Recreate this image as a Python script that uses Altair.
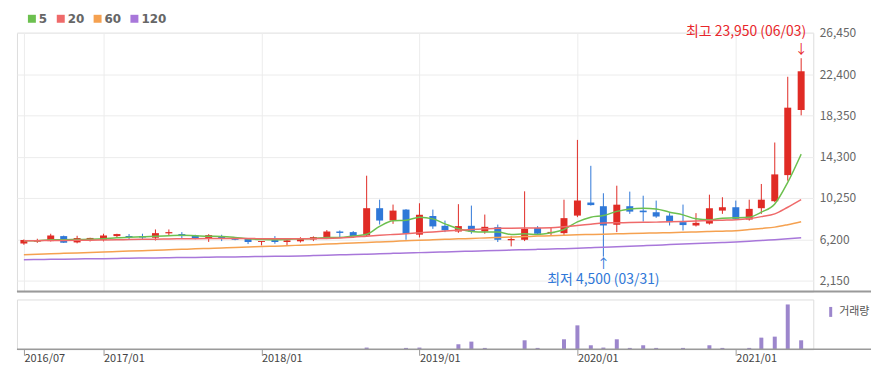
import altair as alt
import pandas as pd

# ---------------- data ----------------
months = pd.date_range("2016-07-01", periods=60, freq="MS")

open_ = [5790, 5960, 6020, 6510, 5890, 6220, 6150, 6510, 6520, 6510,
         6350, 6780, 6710, 6570, 6280, 6470, 6350, 6250, 5930, 6120,
         5930, 6000, 6180, 6320, 6960, 6900, 6570, 9245, 8035, 9110,
         6650, 8480, 7520, 6960, 7520, 6960, 7390, 6100, 6150, 7320,
         6800, 6800, 8520, 9800, 9440, 7620, 9440, 9010, 8850, 8520,
         7880, 7550, 7740, 9010, 9340, 8130, 9245, 9930, 12490, 18870]
high = [6180, 6250, 6740, 6560, 6540, 6350, 6740, 6740, 6710, 6740,
        7160, 7160, 6900, 6640, 6700, 6640, 6400, 6280, 6020, 6510,
        6320, 6400, 6480, 7100, 7060, 7000, 12430, 10080, 9600, 9150,
        9730, 9110, 8030, 9640, 9500, 8620, 7640, 6510, 10900, 7490,
        7350, 10080, 15940, 13400, 10710, 11450, 10870, 10470, 9990, 8760,
        9600, 8760, 10570, 10320, 9990, 10080, 11620, 15685, 22130, 23950]
low = [5660, 5850, 5980, 5840, 5800, 5985, 5990, 6320, 6230, 6230,
       6080, 6570, 6320, 6200, 5940, 6020, 6100, 5730, 5600, 5760,
       5630, 5880, 6020, 6220, 6380, 6480, 6470, 7645, 7710, 6150,
       6380, 7220, 6900, 6830, 6740, 6740, 5930, 5500, 6020, 6640,
       6570, 6570, 8370, 9500, 4500, 6900, 8690, 7940, 8300, 7550,
       7060, 7450, 7640, 8690, 8150, 8030, 8690, 9830, 11940, 18350]
close = [6120, 6080, 6570, 5860, 6320, 6330, 6570, 6710, 6380, 6370,
         6800, 6900, 6510, 6250, 6610, 6250, 6150, 5930, 6020, 5930,
         6090, 6280, 6410, 6960, 6820, 6510, 9245, 8035, 9010, 6740,
         8600, 7460, 7080, 7490, 6960, 7420, 6150, 6230, 7225, 6740,
         6920, 8270, 10000, 9550, 7550, 9590, 8910, 8850, 8430, 7880,
         7590, 7810, 9240, 9340, 8200, 9180, 10080, 12560, 19100, 22670]

ma5 = [6054, 6054, 6151, 6151, 6180, 6200, 6249, 6346, 6395, 6444,
       6493, 6542, 6590, 6542, 6493, 6470, 6376, 6249, 6180, 6151,
       6180, 6249, 6278, 6376, 6376, 6512, 6688, 7469, 8005, 8054,
       8366, 8200, 7713, 7225, 6961, 6903, 6903, 6668, 6737, 6668,
       6834, 7156, 7908, 8366, 8522, 8933, 9176, 9245, 9176, 8854,
       8591, 8200, 8103, 8269, 8298, 8366, 8854, 9664, 11782, 14544]
ma20 = [6050, 6060, 6080, 6090, 6100, 6110, 6130, 6150, 6170, 6190,
        6210, 6230, 6250, 6260, 6270, 6280, 6280, 6270, 6260, 6260,
        6250, 6250, 6260, 6280, 6330, 6400, 6500, 6590, 6670, 6740,
        6830, 6920, 7000, 7080, 7150, 7220, 7280, 7290, 7300, 7310,
        7330, 7420, 7540, 7680, 7800, 7820, 7840, 7860, 7880, 7910,
        7940, 7980, 8030, 8070, 8110, 8230, 8420, 8690, 9340, 10080]
ma60 = [4690, 4730, 4780, 4820, 4860, 4910, 4950, 5000, 5040, 5080,
        5130, 5170, 5210, 5260, 5300, 5340, 5390, 5430, 5480, 5520,
        5570, 5620, 5670, 5730, 5780, 5830, 5890, 5940, 5990, 6050,
        6100, 6150, 6190, 6240, 6280, 6330, 6370, 6420, 6460, 6510,
        6550, 6600, 6640, 6670, 6700, 6730, 6760, 6790, 6820, 6850,
        6880, 6920, 6960, 6990, 7030, 7150, 7260, 7390, 7630, 7920]
ma120 = [4200, 4220, 4230, 4250, 4270, 4290, 4300, 4320, 4340, 4360,
         4370, 4390, 4410, 4420, 4440, 4460, 4470, 4490, 4510, 4530,
         4540, 4560, 4600, 4640, 4670, 4710, 4740, 4780, 4820, 4850,
         4890, 4920, 4960, 5000, 5030, 5070, 5100, 5140, 5180, 5210,
         5250, 5280, 5320, 5370, 5420, 5470, 5520, 5570, 5620, 5680,
         5730, 5780, 5830, 5880, 5930, 6000, 6080, 6160, 6250, 6350]

volume = [0.4, 0.3, 0.5, 0.4, 0.3, 0.3, 0.4, 0.3, 0.3, 0.3,
          0.5, 0.4, 0.3, 0.3, 0.3, 0.3, 0.3, 0.3, 0.3, 0.3,
          0.3, 0.3, 0.3, 0.4, 0.4, 0.4, 5, 0.8, 0.8, 4,
          5, 0.8, 0.8, 15, 23, 4, 0.8, 0.8, 27, 4,
          0.8, 30, 72, 12, 5, 30, 4, 12, 4, 0.8,
          4, 0.8, 12, 4, 0.8, 4, 35, 38, 135, 27]

ma_names = ["5", "20", "60", "120"]
ma_colors = ["#6cc04f", "#ef6a6a", "#f5a150", "#a877da"]

y_ticks = [2150, 6200, 10250, 14300, 18350, 22400, 26450]
x_tick_labels = ["2016/07", "2017/01", "2018/01", "2019/01", "2020/01", "2021/01"]

ann_text = ["최고 23,950 (06/03)", "최저 4,500 (03/31)"]
ann_value = [23950, 4500]
ann_index = [59, 44]

# ---------------- tables ----------------
price = pd.DataFrame({"date": months, "open": open_, "high": high,
                      "low": low, "close": close})

ma_df = pd.concat([
    pd.DataFrame({"date": months, "ma": n, "value": v})
    for n, v in zip(ma_names, [ma5, ma20, ma60, ma120])
])

vol_df = pd.DataFrame({"date": months, "volume": volume, "lab": "거래량"})

hi_df = pd.DataFrame({"date": [months[ann_index[0]]], "value": [ann_value[0]],
                      "text": [ann_text[0]]})
lo_df = pd.DataFrame({"date": [months[ann_index[1]]], "value": [ann_value[1]],
                      "text": [ann_text[1]]})

tick_dates = [alt.DateTime(year=int(s[:4]), month=int(s[5:]), date=1) for s in x_tick_labels]
x_dom = [alt.DateTime(year=2016, month=6, date=15), alt.DateTime(year=2021, month=6, date=29)]
xscale = alt.Scale(domain=x_dom, nice=False, padding=0)
yscale = alt.Scale(domain=[1077, 26450], nice=False, zero=False)

FONT = "Noto Sans CJK KR"
UP, DOWN = "#e02b25", "#2f78d8"
W, H_MAIN, H_VOL = 800, 260, 50

dir_color = alt.condition("datum.close >= datum.open", alt.value(UP), alt.value(DOWN))

x_main = alt.X("date:T", scale=xscale, title=None,
               axis=alt.Axis(values=tick_dates, grid=True, gridColor="#ececec",
                             labels=False, ticks=False, domain=False))

base = alt.Chart(price)
wicks = base.mark_rule(strokeWidth=1).encode(
    x=x_main,
    y=alt.Y("low:Q", scale=yscale, title=None,
            axis=alt.Axis(orient="right", values=y_ticks, format=",.0f", grid=True,
                          gridColor="#ececec", ticks=False, domain=False,
                          labelPadding=6, labelFontSize=12, labelColor="#666",
                          labelFont=FONT)),
    y2="high:Q",
    color=dir_color,
)
bodies = base.mark_bar(width=7).encode(
    x="date:T", y="open:Q", y2="close:Q", color=dir_color)

lines = alt.Chart(ma_df).mark_line(strokeWidth=1.5, interpolate="monotone").encode(
    x="date:T", y="value:Q",
    color=alt.Color("ma:N", scale=alt.Scale(domain=ma_names, range=ma_colors),
                    legend=alt.Legend(orient="none", legendX=9, legendY=-20,
                                      direction="horizontal", title=None,
                                      symbolType="square", symbolSize=16,
                                      symbolStrokeWidth=4, labelFontSize=12,
                                      labelFontWeight="bold", labelColor="#666",
                                      labelFont="DejaVu Sans", columnPadding=3,
                                      labelOffset=1)),
)

hi_text = alt.Chart(hi_df).mark_text(align="right", baseline="middle", dx=5, dy=-26,
                                     fontSize=14, font=FONT, color="#e8262b").encode(
    x="date:T", y="value:Q", text="text:N")
hi_arrow = alt.Chart(hi_df).mark_text(align="center", baseline="middle", dy=-9,
                                      fontSize=13, font=FONT, color="#e8262b").encode(
    x="date:T", y="value:Q", text=alt.value("↓"))
lo_text = alt.Chart(lo_df).mark_text(align="center", baseline="middle", dy=24,
                                     fontSize=14, font=FONT, color="#2f78d8").encode(
    x="date:T", y="value:Q", text="text:N")
lo_arrow = alt.Chart(lo_df).mark_text(align="center", baseline="middle", dy=7,
                                      fontSize=13, font=FONT, color="#2f78d8").encode(
    x="date:T", y="value:Q", text=alt.value("↑"))

one = pd.DataFrame({"k": [0]})
main_line = alt.Chart(one).mark_rule(color="#9a9a9a", strokeWidth=2).encode(
    x=alt.value(0), x2=alt.value(858), y=alt.value(H_MAIN))

main = alt.layer(wicks, bodies, lines, hi_text, hi_arrow, lo_text, lo_arrow, main_line
                 ).properties(width=W, height=H_MAIN)

vol_bars = alt.Chart(vol_df).mark_bar(width=4).encode(
    x=alt.X("date:T", scale=xscale, title=None,
            axis=alt.Axis(values=tick_dates, format="%Y/%m", grid=False, domain=False,
                          ticks=True, tickColor="#999", tickSize=6, labelAlign="left",
                          labelPadding=-3, labelFontSize=11, labelColor="#444",
                          labelFont=FONT)),
    y=alt.Y("volume:Q", scale=alt.Scale(domain=[0, 150]), axis=None),
    color=alt.Color("lab:N", scale=alt.Scale(domain=["거래량"], range=["#9c86cc"]),
                    legend=alt.Legend(orient="none", legendX=812, legendY=7, title=None,
                                      symbolType="M-0.3,-1L0.3,-1L0.3,1L-0.3,1Z",
                                      symbolSize=100, symbolStrokeWidth=0,
                                      labelFontSize=11, labelColor="#555",
                                      labelFont=FONT, labelOffset=3)),
)
vol_line = alt.Chart(one).mark_rule(color="#9a9a9a", strokeWidth=1.5).encode(
    x=alt.value(0), x2=alt.value(858), y=alt.value(H_VOL))

vol = alt.layer(vol_bars, vol_line).properties(width=W, height=H_VOL)

chart = alt.vconcat(main, vol, spacing=5).resolve_scale(
    color="independent").resolve_legend(color="independent").properties(
    padding={"left": 7, "top": 3, "right": 0, "bottom": 0}
).configure_view(stroke=None).configure(font=FONT)

chart.save("out.html", embed_options={"renderer": "svg", "actions": False})
